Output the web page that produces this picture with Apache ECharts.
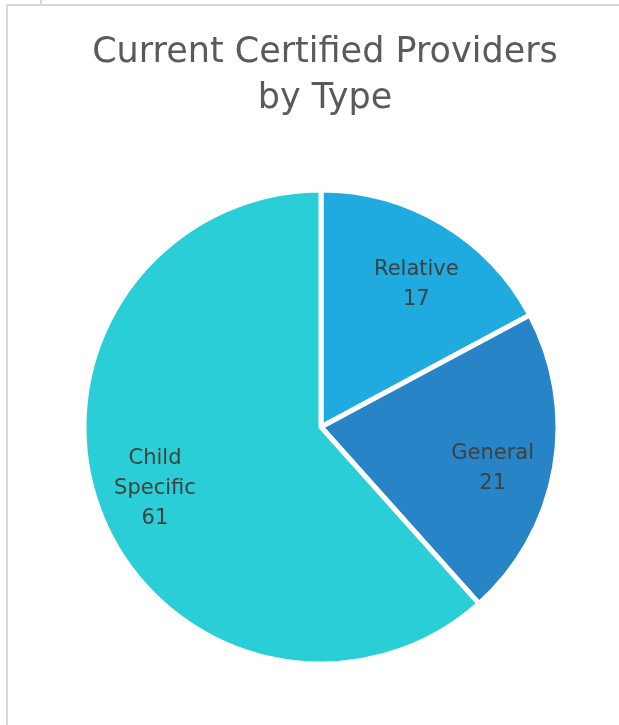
<!DOCTYPE html>
<html><head><meta charset="utf-8">
<script src="https://cdn.jsdelivr.net/npm/echarts@6/dist/echarts.min.js"></script>
<style>html,body{margin:0;padding:0;background:#fff}#c{width:619px;height:725px}</style>
</head><body><div id="c"></div>
<script>
const categories = ["Relative", "General", "Child Specific"];
const labelLines = ["Relative", "General", "Child\nSpecific"];
const values = [17, 21, 61];
const colors = ["#1fabe0", "#2784c6", "#29ced7"];

const chart = echarts.init(document.getElementById('c'), null, {renderer: 'canvas'});
const visData = categories.map((c, i) => ({name: c, value: values[i], itemStyle: {color: colors[i]}}));
const lblData = categories.map((c, i) => ({name: c, value: values[i], label: {formatter: labelLines[i] + "\n" + values[i]}}));
chart.setOption({
  animation: false,
  title: {
    text: "Current Certified Providers\nby Type",
    left: 320, top: 25, textAlign: 'center',
    textStyle: {fontFamily: "DejaVu Sans", fontSize: 35, fontWeight: 'normal', color: '#5a5a5a', lineHeight: 46}
  },
  graphic: [
    {type: 'line', shape: {x1: 7, y1: 5, x2: 7, y2: 725}, style: {stroke: '#d9d9d9', lineWidth: 2}},
    {type: 'line', shape: {x1: 6, y1: 5, x2: 619, y2: 5}, style: {stroke: '#d9d9d9', lineWidth: 2}},
    {type: 'line', shape: {x1: 41, y1: 0, x2: 41, y2: 5}, style: {stroke: '#d9d9d9', lineWidth: 2}}
  ],
  series: [
    {
      type: 'pie', center: [321, 427], radius: [0, 237], startAngle: 90, clockwise: true,
      silent: true, label: {show: false}, labelLine: {show: false},
      itemStyle: {borderColor: '#fff', borderWidth: 5},
      data: visData
    },
    {
      type: 'pie', center: [321, 432], radius: [108, 237], startAngle: 88, clockwise: true,
      silent: true, labelLine: {show: false},
      itemStyle: {color: 'rgba(0,0,0,0)', borderWidth: 0},
      label: {show: true, position: 'inside', fontFamily: "DejaVu Sans", fontSize: 21, lineHeight: 30, color: '#404040', align: 'center'},
      data: lblData
    }
  ]
});
</script></body></html>
